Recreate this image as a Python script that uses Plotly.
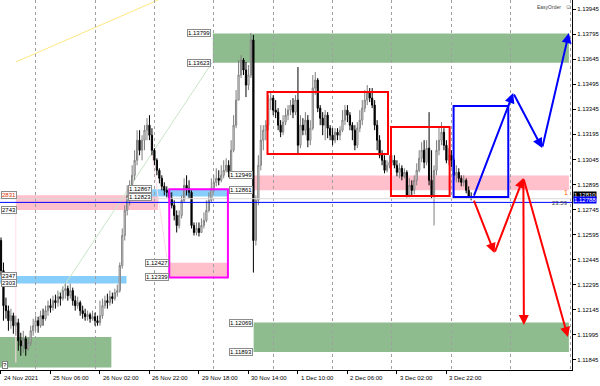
import plotly.graph_objects as go

# ---------------- data ----------------
first_open = 1.1256
close = [1.1238,1.1217,1.1214,1.1208,1.1211,1.1205,1.12068,1.1196,1.1193,1.11972,
 1.11912,1.11948,1.1202,1.1205,1.1208,1.1205,1.1211,1.12092,1.1214,1.1217,
 1.12158,1.122,1.12188,1.12224,1.12212,1.1226,1.12272,1.1223,1.1226,1.122,
 1.1217,1.12188,1.1214,1.12122,1.12104,1.12116,1.12092,1.12104,1.1208,1.12068,
 1.1211,1.1217,1.122,1.12188,1.12224,1.12212,1.12248,1.1226,1.1241,1.1259,
 1.1274,1.1283,1.1286,1.1295,1.1304,1.1316,1.131,1.1316,1.1322,1.1325,
 1.1319,1.131,1.1304,1.1298,1.12932,1.12884,1.1286,1.12848,1.12812,1.1277,
 1.1271,1.1265,1.1271,1.128,1.1289,1.12872,1.12848,1.1265,1.12608,1.12632,
 1.12608,1.1265,1.1268,1.1274,1.128,1.12872,1.12908,1.12932,1.1292,1.1295,
 1.1298,1.1301,1.12968,1.131,1.1325,1.134,1.1355,1.1364,1.1358,1.1349,
 1.1355,1.1376,1.1256,1.128,1.1301,1.1316,1.1322,1.1325,1.134,1.13412,
 1.1334,1.13328,1.1325,1.13208,1.13268,1.1331,1.1334,1.1337,1.13328,1.134,
 1.1313,1.1325,1.1322,1.1328,1.1316,1.13232,1.13472,1.1352,1.13352,1.13292,
 1.1325,1.1331,1.13232,1.1319,1.1316,1.13208,1.1319,1.1322,1.1328,1.1334,
 1.1331,1.1325,1.1322,1.1313,1.13232,1.1328,1.13352,1.134,1.13448,1.13412,
 1.1337,1.1325,1.1316,1.1307,1.1304,1.1298,1.1301,1.13028,1.1304,1.1301,
 1.12968,1.12992,1.12944,1.12968,1.1283,1.1289,1.1286,1.1292,1.1298,1.13052,
 1.131,1.13028,1.13112,1.1292,1.1283,1.1298,1.131,1.1316,1.13208,1.1313,
 1.1304,1.1307,1.1304,1.1295,1.12968,1.12932,1.12908,1.1292,1.1286,1.12824,
 1.1281]
high = [1.12578,1.12428,1.12218,1.1217,1.12152,1.12128,1.1211,1.12092,1.12008,1.1202,
 1.1199,1.11978,1.1205,1.12092,1.1211,1.12104,1.1214,1.12152,1.1217,1.122,
 1.12212,1.1223,1.12236,1.1226,1.12248,1.12284,1.12302,1.1229,1.12302,1.12278,
 1.1223,1.12224,1.122,1.1217,1.12152,1.1214,1.12128,1.1214,1.12128,1.1211,
 1.122,1.12212,1.1223,1.12242,1.1226,1.12248,1.12272,1.12296,1.12428,1.12632,
 1.1277,1.1289,1.1292,1.1301,1.131,1.1322,1.1322,1.1319,1.1325,1.13292,
 1.1331,1.13232,1.13112,1.13052,1.12992,1.1295,1.12908,1.12884,1.1286,1.12848,
 1.128,1.1274,1.1274,1.1283,1.12932,1.1295,1.1292,1.1286,1.12668,1.12668,
 1.12668,1.12692,1.12728,1.128,1.12848,1.12932,1.1295,1.12992,1.1298,1.1301,
 1.1304,1.13052,1.1304,1.1316,1.1331,1.1346,1.1364,1.1367,1.13652,1.13628,
 1.1361,1.13802,1.1379,1.1283,1.1307,1.1325,1.1325,1.1328,1.1343,1.13448,
 1.1343,1.134,1.13352,1.1328,1.1331,1.13352,1.1337,1.134,1.13412,1.1343,
 1.13598,1.1331,1.13292,1.13328,1.1331,1.1328,1.1355,1.13568,1.13532,1.1337,
 1.13328,1.1334,1.13328,1.1325,1.13232,1.13232,1.13232,1.13244,1.1334,1.1337,
 1.1337,1.13328,1.13268,1.1325,1.13268,1.1334,1.134,1.1346,1.1349,1.13472,
 1.13472,1.134,1.1328,1.1319,1.131,1.1307,1.1304,1.1307,1.1307,1.1307,
 1.1304,1.13022,1.1301,1.12992,1.1298,1.12932,1.1292,1.1295,1.13022,1.131,
 1.13148,1.1316,1.1316,1.13328,1.131,1.1301,1.1316,1.13238,1.13268,1.13232,
 1.1316,1.13112,1.131,1.13052,1.1301,1.12992,1.1295,1.1295,1.12932,1.12884,
 1.12848]
low = [1.1235,1.1208,1.12092,1.1202,1.12032,1.12002,1.1199,1.119,1.1187,1.11888,
 1.1187,1.119,1.1193,1.1199,1.1202,1.12008,1.12038,1.1205,1.1208,1.1211,
 1.12128,1.1214,1.12152,1.12164,1.1217,1.122,1.12212,1.122,1.12212,1.1217,
 1.1214,1.12152,1.1211,1.12092,1.1208,1.1208,1.12068,1.1208,1.1205,1.1205,
 1.1205,1.12092,1.12152,1.12152,1.1217,1.12182,1.122,1.12224,1.12248,1.12392,
 1.1256,1.1271,1.1277,1.1283,1.1292,1.1301,1.1307,1.1304,1.131,1.1316,
 1.1316,1.1307,1.1301,1.1295,1.12902,1.1286,1.1283,1.12818,1.12788,1.12752,
 1.1268,1.12608,1.12632,1.12692,1.12788,1.1283,1.12812,1.12632,1.1259,1.1259,
 1.12584,1.12608,1.12632,1.12668,1.12728,1.12788,1.12848,1.12884,1.1289,1.12908,
 1.12932,1.12968,1.12938,1.1295,1.13088,1.13232,1.134,1.13532,1.1355,1.13418,
 1.1346,1.13532,1.12368,1.1253,1.1277,1.1298,1.131,1.1316,1.1322,1.1334,
 1.1331,1.13292,1.1322,1.13178,1.1319,1.1325,1.1328,1.1331,1.13292,1.1331,
 1.13082,1.13112,1.1319,1.1319,1.13118,1.1313,1.1322,1.1343,1.13328,1.1325,
 1.1319,1.1316,1.13172,1.1316,1.1313,1.13142,1.1316,1.1316,1.13208,1.1325,
 1.13268,1.1322,1.1316,1.131,1.13112,1.13208,1.1325,1.13328,1.1337,1.13388,
 1.13352,1.1322,1.131,1.13052,1.1301,1.12962,1.12968,1.12992,1.1301,1.12992,
 1.12944,1.12932,1.1292,1.12932,1.12818,1.12818,1.12824,1.12836,1.1289,1.12968,
 1.13028,1.12992,1.1301,1.1289,1.12812,1.1265,1.1295,1.1307,1.1313,1.131,
 1.13022,1.1301,1.12998,1.1292,1.12908,1.12908,1.12884,1.12884,1.12842,1.12812,
 1.128]

price_ticks = [1.13945,1.13795,1.13645,1.13495,1.13345,1.13195,1.13045,1.12895,
               1.12745,1.12595,1.12445,1.12295,1.12145,1.11995,1.11845]
date_labels = ["24 Nov 2021","25 Nov 06:00","26 Nov 02:00","26 Nov 22:00","29 Nov 18:00",
               "30 Nov 14:00","1 Dec 10:00","2 Dec 06:00","3 Dec 02:00","3 Dec 22:00"]
date_label_bars = [0,20,40,60,80,100,120,140,160,180]

# zones: (bar_from, bar_to, price_top, price_bottom, color)
zones = [
    (85.6, 229.5, 1.13799, 1.13623, "#8fbc8f"),
    (-1, 44.6, 1.11983, 1.11800, "#8fbc8f"),
    (102.1, 229.5, 1.12069, 1.11893, "#8fbc8f"),
    (6.0, 63.5, 1.12831, 1.12743, "#ffc0cb"),
    (68.0, 91.7, 1.12427, 1.12339, "#ffc0cb"),
    (102.1, 229.5, 1.12949, 1.12861, "#ffc0cb"),
    (-1, 50.7, 1.12347, 1.12303, "#87cefa"),
    (61.1, 91.7, 1.12867, 1.12823, "#87cefa"),
]
# outlined rectangles
boxes = [
    (68.0, 91.7, 1.12867, 1.12339, "#ff00ff"),
    (107.7, 156.4, 1.13448, 1.13077, "#ff0000"),
    (157.6, 181.3, 1.13239, 1.12826, "#ff0000"),
    (182.9, 205.0, 1.13365, 1.12820, "#0000ff"),
]
# scenario arrows: (tail_bar, tail_price, head_bar, head_price, color)
arrows = [
    (190.9, 1.12820, 207.0, 1.13442, "#0000ff"),
    (207.0, 1.13442, 218.7, 1.13113, "#0000ff"),
    (218.7, 1.13113, 229.5, 1.13801, "#0000ff"),
    (190.9, 1.12808, 199.4, 1.12485, "#ff0000"),
    (199.4, 1.12485, 211.1, 1.12934, "#ff0000"),
    (211.1, 1.12934, 211.3, 1.12054, "#ff0000"),
    (211.1, 1.12934, 229.1, 1.11983, "#ff0000"),
]
# level labels: (bar_right_edge, price, text, color)
level_labels = [
    (84.8, 1.13799, "1.13799", "black"), (84.8, 1.13623, "1.13623", "black"),
    (101.7, 1.12949, "1.12949", "black"), (101.7, 1.12861, "1.12861", "black"),
    (61.0, 1.12867, "1.12867", "black"), (61.0, 1.12823, "1.12823", "black"),
    (67.9, 1.12427, "1.12427", "black"), (67.9, 1.12339, "1.12339", "black"),
    (101.7, 1.12069, "1.12069", "black"), (101.7, 1.11893, "1.11893", "black"),
]
# labels clipped at the left edge of the window (only their tail is visible)
edge_labels = [
    (1.12831, "2831", "#e03000"), (1.12743, "2743", "black"),
    (1.12347, "2347", "black"), (1.12303, "2303", "black"),
]
bid_price = 1.12810
line_price = 1.12788

# ---------------- figure ----------------
n = len(close)
bars = list(range(n))
opens = [first_open] + close[:-1]
hi = [max(h, o, c) for h, o, c in zip(high, opens, close)]
lo = [min(l, o, c) for l, o, c in zip(low, opens, close)]

FONT = "Liberation Sans, Arial, sans-serif"
fig = go.Figure()
fig.add_trace(go.Candlestick(
    x=bars, open=opens, high=hi, low=lo, close=close,
    increasing=dict(line=dict(color="#7f7f7f", width=1), fillcolor="#ffffff"),
    decreasing=dict(line=dict(color="#000000", width=1), fillcolor="#000000"),
    whiskerwidth=0, hoverinfo="skip", showlegend=False))

shapes = []
for x0, x1, p0, p1, col in zones:
    shapes.append(dict(type="rect", xref="x", yref="y", x0=x0, x1=x1, y0=p0, y1=p1,
                       fillcolor=col, line=dict(width=0), layer="below"))
# faint helper lines
shapes.append(dict(type="line", xref="x", yref="y", x0=6.0, x1=63.5, y0=1.13628, y1=1.13999,
                   line=dict(color="#ffe680", width=1), layer="below"))
shapes.append(dict(type="line", xref="x", yref="y", x0=18.5, x1=85.2, y0=1.12132, y1=1.13622,
                   line=dict(color="#c8e6c8", width=1), layer="below"))
shapes.append(dict(type="line", xref="x", yref="y", x0=6.0, x1=6.0, y0=1.12743, y1=1.11830,
                   line=dict(color="#ffdde3", width=1), layer="below"))
shapes.append(dict(type="line", xref="x", yref="y", x0=61.0, x1=67.0, y0=1.13080, y1=1.12460,
                   line=dict(color="#ffdde3", width=1), layer="below"))
# bid line and blue price line
shapes.append(dict(type="line", xref="paper", yref="y", x0=0, x1=1, y0=bid_price, y1=bid_price,
                   line=dict(color="#d8d8d8", width=1)))
shapes.append(dict(type="line", xref="paper", yref="y", x0=0, x1=1, y0=line_price, y1=line_price,
                   line=dict(color="#0000ff", width=1)))
for x0, x1, p0, p1, col in boxes:
    shapes.append(dict(type="rect", xref="x", yref="y", x0=x0, x1=x1, y0=p0, y1=p1,
                       line=dict(color=col, width=2), fillcolor="rgba(0,0,0,0)"))

ann = []
for tb, tp, hb, hp, col in arrows:
    ann.append(dict(x=hb, y=hp, ax=tb, ay=tp, xref="x", yref="y", axref="x", ayref="y",
                    showarrow=True, arrowhead=2, arrowsize=1, arrowwidth=2,
                    arrowcolor=col, text=""))
for b, p, t, col in level_labels:
    ann.append(dict(x=b, y=p, xref="x", yref="y", text=t, showarrow=False,
                    xanchor="right", yanchor="middle",
                    font=dict(family=FONT, size=6, color=col),
                    bgcolor="white", bordercolor="#8c8c8c", borderwidth=1, borderpad=0))
for p, t, col in edge_labels:
    ann.append(dict(x=0, y=p, xref="paper", yref="y", text=t, showarrow=False,
                    xanchor="left", yanchor="middle", xshift=1,
                    font=dict(family=FONT, size=6, color=col),
                    bgcolor="white", bordercolor="#8c8c8c", borderwidth=1, borderpad=0))
for b, t in zip(date_label_bars, date_labels):
    ann.append(dict(x=b, y=0, xref="x", yref="paper", text=t, showarrow=False,
                    xanchor="left", yanchor="top", xshift=1, yshift=-3,
                    font=dict(family=FONT, size=6, color="black")))
ann.append(dict(x=1, y=bid_price, xref="paper", yref="y", text="1.12810", showarrow=False,
                xanchor="left", yanchor="middle", yshift=4, xshift=1,
                font=dict(family=FONT, size=6, color="white"), bgcolor="black", borderpad=0))
ann.append(dict(x=1, y=line_price, xref="paper", yref="y", text="1.12788", showarrow=False,
                xanchor="left", yanchor="middle", yshift=2, xshift=1,
                font=dict(family=FONT, size=6, color="white"), bgcolor="#0000ff", borderpad=0))
ann.append(dict(x=0.997, y=line_price, xref="paper", yref="y", text="23:59", showarrow=False,
                xanchor="right", yanchor="middle", yshift=-1,
                font=dict(family=FONT, size=6, color="#404040")))
ann.append(dict(x=0.997, y=1.12861, xref="paper", yref="y", text="1", showarrow=False,
                xanchor="right", yanchor="middle", yshift=-2,
                font=dict(family=FONT, size=7, color="#ff6000")))
ann.append(dict(x=0.985, y=1, xref="paper", yref="paper", text="EasyOrder", showarrow=False,
                xanchor="right", yanchor="top", yshift=-2,
                font=dict(family=FONT, size=5, color="#404040")))
ann.append(dict(x=0.994, y=1, xref="paper", yref="paper", text="☺", showarrow=False,
                xanchor="center", yanchor="top", yshift=-1,
                font=dict(family=FONT, size=7, color="#606060")))
ann.append(dict(x=0.004, y=0, xref="paper", yref="paper", text="?", showarrow=False,
                xanchor="left", yanchor="bottom", yshift=1,
                font=dict(family=FONT, size=6, color="black"),
                bgcolor="white", bordercolor="#808080", borderwidth=1, borderpad=0))

fig.update_layout(
    width=600, height=386, margin=dict(l=0, r=25, t=0, b=16),
    paper_bgcolor="white", plot_bgcolor="white",
    shapes=shapes, annotations=ann, showlegend=False,
    xaxis=dict(range=[-0.4, 230.75], rangeslider=dict(visible=False),
               tickmode="array", tickvals=date_label_bars, showticklabels=False,
               ticks="outside", ticklen=3, tickcolor="black",
               showgrid=False, zeroline=False, showline=True, linecolor="black", linewidth=1,
               minor=dict(tick0=14, dtick=24, showgrid=True, gridcolor="#a0a0a0",
                          griddash="dot", gridwidth=1, ticks="")),
    yaxis=dict(range=[1.11785, 1.13999], side="right", tickmode="array",
               tickvals=price_ticks, ticktext=[f"{v:.5f}" for v in price_ticks],
               ticks="outside", ticklen=3, tickcolor="black",
               tickfont=dict(family=FONT, size=6, color="black"),
               showgrid=False, zeroline=False, showline=True, linecolor="black", linewidth=1),
)
fig.write_html("out.html")
